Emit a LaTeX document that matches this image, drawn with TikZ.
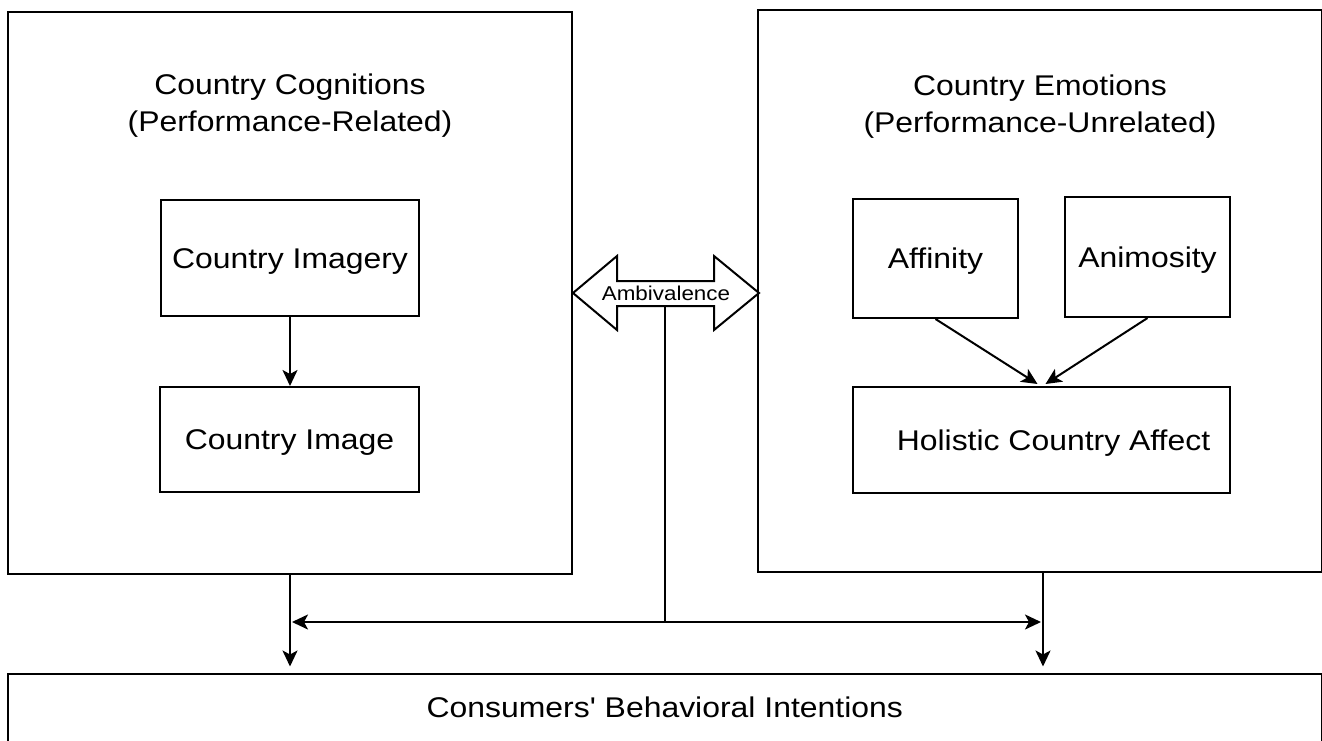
\documentclass[tikz,border=0pt]{standalone}
\usepackage{fontspec}
\setmainfont{Liberation Sans}[FakeStretch=1.12, Ligatures=TeXOff]
\usetikzlibrary{arrows.meta}
\newcommand{\mainsz}{\fontsize{28.5}{37}\selectfont}
\newcommand{\smallsz}{\fontsize{20}{24}\selectfont}
\begin{document}
\begin{tikzpicture}[x=1pt,y=-1pt,
  >={Stealth[length=16pt,width=15pt,inset=4pt]},
  lw/.style={line width=2pt},
  box/.style={draw, line width=2pt, inner sep=0pt, text height=20.4pt,
    text depth=0pt, font=\mainsz},
  frame/.style={draw, line width=2pt, inner sep=0pt},
  title/.style={font=\mainsz, align=center, inner sep=0pt, anchor=base},
  arr/.style={line width=2pt, ->},
  darr/.style={line width=2pt, <->}]
\useasboundingbox (0,0) rectangle (1322,740);
\clip (0,0) rectangle (1322,740);

% outer groups
\node[frame, minimum width=564pt, minimum height=562pt] (cog) at (290,293) {};
\node[frame, minimum width=563.5pt, minimum height=562pt] (emo) at (1039.75,291) {};
\node[box, minimum width=1313.5pt, minimum height=68.5pt] (behav) at (664.75,707.75)
  {Consumers' Behavioral Intentions};

% group titles (base anchor sits on the second line)
\node[title] (cogtitle) at (290,131) {Country Cognitions\\(Performance-Related)};
\node[title] (emotitle) at (1040,132) {Country Emotions\\(Performance-Unrelated)};

% cognition side
\node[box, minimum width=258pt, minimum height=116pt] (imagery) at (290,258) {Country Imagery};
\node[box, minimum width=259pt, minimum height=105pt] (image) at (289.5,439.5) {Country Image};
\draw[arr] (imagery.south) -- (imagery.south |- image.north);

% emotion side
\node[box, minimum width=165pt, minimum height=119pt] (affinity) at (935.5,258.5) {Affinity};
\node[box, minimum width=165pt, minimum height=120pt] (animosity) at (1147.5,257) {Animosity};
\node[box, minimum width=377pt, minimum height=106pt] (holistic) at (1041.5,440)
  {\hspace*{24pt}Holistic Country Affect};
\draw[arr] (affinity.south) -- ([xshift=-4pt,yshift=2pt]holistic.north);
\draw[arr] (animosity.south) -- ([xshift=4pt,yshift=2pt]holistic.north);

% ambivalence double arrow between the groups
\draw[lw, fill=white] (573,293) -- (617,256) -- (617,281) -- (714,281) -- (714,256)
  -- (759,293) -- (714,330) -- (714,306) -- (617,306) -- (617,330) -- cycle;
\node[font=\smallsz, inner sep=0pt, text height=14.3pt, text depth=0pt] (amb) at (666,293.5) {Ambivalence};

% links to behavioural intentions
\coordinate (foot) at (665,306);
\coordinate (hub) at (665,622);
\coordinate (rx) at (1043,0);
\draw[lw] (foot) -- (hub);
\draw[darr] ([xshift=2pt]hub -| cog.south) -- ([xshift=-2pt]hub -| rx);
\draw[arr] (cog.south) -- ([yshift=6pt]cog.south |- behav.north);
\draw[arr] (emo.south -| rx) -- ([yshift=6pt]behav.north -| rx);
\end{tikzpicture}
\end{document}
